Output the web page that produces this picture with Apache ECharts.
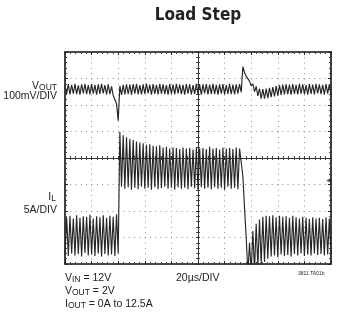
<!DOCTYPE html>
<html>
<head>
<meta charset="utf-8">
<script src="https://cdn.jsdelivr.net/npm/echarts@6/dist/echarts.min.js"></script>
<style>
html,body{margin:0;padding:0;background:#fff;}
#chart{width:345px;height:324px;}
</style>
</head>
<body>
<div id="chart"></div>
<script>
// ---- Data ----
// time axis: 20 µs/DIV, 10 divisions
const TIME_MIN_US = 0, TIME_MAX_US = 200, TIME_DIV_US = 20;
const SAMPLE_US = 1.25; // one sample every 1.25 µs (half a switching cycle)

// Inductor current I_L (A), 5 A/DIV
const IL_MIN = -5, IL_MAX = 35, IL_DIV = 5;
const ilAmps = [
  -3.2, 3.8, -3.5, 4.1, -3.0, 3.6, -3.4, 4.2, -3.1, 3.7,
  -3.6, 4.0, -2.9, 3.9, -3.4, 4.3, -3.2, 3.6, -3.5, 4.0,
  -3.0, 3.8, -3.6, 4.2, -3.1, 3.7, -3.4, 4.1, -3.2, 3.9,
  -3.5, 4.4, -3.0, 19.9, 9.6, 19.3, 9.2, 18.9, 9.5, 18.6,
  9.0, 18.4, 9.4, 18.1, 9.1, 17.9, 9.6, 17.8, 9.2, 17.5,
  9.4, 17.6, 9.0, 17.3, 9.5, 17.2, 9.1, 17.4, 9.3, 17.0,
  9.6, 17.1, 9.2, 16.8, 9.4, 17.0, 9.0, 16.9, 9.5, 16.7,
  9.2, 17.0, 9.4, 16.8, 9.1, 16.9, 9.6, 16.6, 9.3, 17.0,
  9.0, 16.8, 9.5, 16.9, 9.2, 16.7, 9.4, 17.1, 9.1, 16.8,
  9.5, 16.9, 9.2, 16.6, 9.4, 17.0, 9.0, 16.8, 9.6, 16.9,
  9.2, 16.7, 9.4, 17.0, 9.1, 16.8, 16.6, 11.5, 5.5, 0.0,
  -6.8, -1.0, -6.6, 1.2, -6.2, 2.6, -5.6, 3.4, -5.0, 3.9,
  -4.6, 4.1, -4.0, 4.0, -3.6, 4.2, -3.4, 3.8, -3.7, 4.1,
  -3.2, 3.9, -3.5, 4.0, -3.3, 3.7, -3.6, 4.1, -3.1, 3.8,
  -3.4, 3.6, -3.0, 3.9, -3.5, 3.7, -3.2, 3.5, -3.4, 3.8,
  -3.0, 3.6, -3.3, 3.7, -3.1, 3.5, -3.4, 3.8, -3.2, 3.6,
  -3.3
];

// Output voltage deviation from 2V (mV), 100 mV/DIV
const VOUT_MIN_MV = -660, VOUT_MAX_MV = 140;
const voutMv = [
  15, -18, 19, -20, 16, -17, 20, -19, 14, -21,
  18, -16, 20, -19, 15, -20, 19, -17, 16, -21,
  18, -18, 20, -16, 15, -20, 18, -19, 10, -24,
  -28, -55, -119, 12, -22, 16, -20, 18, -19, 17,
  -21, 19, -17, 20, -19, 15, -20, 18, -18, 21,
  -16, 17, -21, 19, -18, 16, -20, 20, -17, 18,
  -19, 15, -21, 19, -18, 17, -20, 20, -16, 18,
  -19, 16, -21, 19, -17, 18, -20, 15, -18, 20,
  -19, 17, -21, 18, -16, 19, -20, 17, -18, 20,
  -19, 16, -21, 18, -17, 19, -20, 15, -18, 20,
  -19, 17, -20, 18, -17, 19, -12, 85, 62, 48,
  42, 30, 12, 20, -10, 10, -26, 2, -36, 0,
  -36, 2, -34, 5, -30, 8, -28, 12, -25, 15,
  -22, 17, -20, 18, -19, 17, -21, 19, -18, 16,
  -20, 20, -17, 18, -19, 15, -21, 19, -18, 17,
  -20, 20, -16, 18, -19, 16, -21, 19, -17, 18,
  -20
];

// trigger-level marker on the right edge (time µs, current A)
const triggerMarker = [198.3, 10.75];

// crosshair graticule in divisions
const DIV_X = 5, DIV_Y = 4;

// ---- Chart ----
const chart = echarts.init(document.getElementById('chart'), null, {renderer: 'canvas'});
const ink = '#262626';
const dotted = {color: '#8a8a8a', width: 1, type: [1, 4.3]};
const frameAxisLine = {show: true, onZero: false, lineStyle: {color: '#111', width: 1.6}};
const none = {show: false};

function frameX(pos, split) {
  return {
    type: 'value', gridIndex: 0, position: pos,
    min: TIME_MIN_US, max: TIME_MAX_US, interval: TIME_DIV_US,
    axisLine: frameAxisLine,
    axisTick: {show: true, inside: true, length: 3, lineStyle: {color: '#222'}},
    minorTick: {show: true, splitNumber: 5, length: 2, lineStyle: {color: '#444'}},
    axisLabel: none,
    splitLine: split ? {show: true, lineStyle: dotted} : none
  };
}
function frameY(pos, split) {
  return {
    type: 'value', gridIndex: 0, position: pos,
    min: IL_MIN, max: IL_MAX, interval: IL_DIV,
    axisLine: frameAxisLine,
    axisTick: {show: true, inside: true, length: 3, lineStyle: {color: '#222'}},
    minorTick: {show: true, splitNumber: 5, length: 2, lineStyle: {color: '#444'}},
    axisLabel: none,
    splitLine: split ? {show: true, lineStyle: dotted} : none
  };
}
function crossX(pos) {
  return {
    type: 'value', gridIndex: 1, position: pos,
    min: -DIV_X, max: DIV_X, interval: 1,
    axisLine: {show: true, onZero: true, lineStyle: {color: '#333', width: 1}},
    axisTick: {show: true, inside: false, length: 2, lineStyle: {color: '#333'}},
    minorTick: {show: true, splitNumber: 5, length: 2, lineStyle: {color: '#444'}},
    axisLabel: none, splitLine: none
  };
}
function crossY(pos) {
  return {
    type: 'value', gridIndex: 1, position: pos,
    min: -DIV_Y, max: DIV_Y, interval: 1,
    axisLine: {show: true, onZero: true, lineStyle: {color: '#333', width: 1}},
    axisTick: {show: true, inside: false, length: 2, lineStyle: {color: '#333'}},
    minorTick: {show: true, splitNumber: 5, length: 2, lineStyle: {color: '#444'}},
    axisLabel: none, splitLine: none
  };
}

const textFont = '"Liberation Sans", Arial, sans-serif';
const rich = {
  v: {fontSize: 10.5, fontFamily: textFont, fill: '#222'},
  s: {fontSize: 8.5, fontFamily: textFont, fill: '#222', padding: [3, 0, 0, 0]}
};
function label(text, x, y, align, size) {
  return {
    type: 'text', silent: true,
    style: {
      text: text, x: x, y: y, align: align || 'left', verticalAlign: 'middle',
      textAlign: align || 'left', textVerticalAlign: 'middle',
      font: (size || 10.5) + 'px ' + textFont, fill: '#222', rich: rich
    }
  };
}

const option = {
  animation: false,
  backgroundColor: '#fff',
  grid: [
    {left: 65, top: 52, width: 266, height: 212},
    {left: 65, top: 52, width: 266, height: 212}
  ],
  xAxis: [frameX('bottom', true), frameX('top', false), crossX('bottom'), crossX('top')],
  yAxis: [
    frameY('left', true), frameY('right', false),
    {type: 'value', gridIndex: 0, min: VOUT_MIN_MV, max: VOUT_MAX_MV, show: false},
    crossY('left'), crossY('right')
  ],
  series: [
    {
      name: 'IL', type: 'line', xAxisIndex: 0, yAxisIndex: 0,
      data: ilAmps.map((v, i) => [i * SAMPLE_US, v]),
      showSymbol: false, symbol: 'none', clip: true, silent: true,
      lineStyle: {color: ink, width: 1.15}
    },
    {
      name: 'VOUT', type: 'line', xAxisIndex: 0, yAxisIndex: 2,
      data: voutMv.map((v, i) => [i * SAMPLE_US, v]),
      showSymbol: false, symbol: 'none', clip: true, silent: true,
      lineStyle: {color: ink, width: 1.15}
    },
    {
      name: 'trigger', type: 'scatter', xAxisIndex: 0, yAxisIndex: 0,
      data: [triggerMarker], symbol: 'triangle', symbolRotate: 90,
      symbolSize: [5, 5], itemStyle: {color: '#222'}, silent: true
    }
  ],
  graphic: [
    {
      type: 'text', silent: true,
      style: {
        text: 'Load Step', x: 198, y: 16, textAlign: 'center', textVerticalAlign: 'middle',
        align: 'center', verticalAlign: 'middle',
        font: 'bold 17px "Liberation Sans Narrow", "DejaVu Sans Condensed", "Liberation Sans", sans-serif',
        fill: '#222'
      }
    },
    label('{v|V}{s|OUT}', 57, 86, 'right'),
    label('100mV/DIV', 57, 96, 'right'),
    label('{v|I}{s|L}', 56, 197, 'right'),
    label('5A/DIV', 57, 210.5, 'right'),
    label('{v|V}{s|IN}{v| = 12V}', 65, 278.5, 'left'),
    label('{v|V}{s|OUT}{v| = 2V}', 65, 291.5, 'left'),
    label('{v|I}{s|OUT}{v| = 0A to 12.5A}', 65, 304, 'left'),
    label('20µs/DIV', 176, 278.5, 'left'),
    label('3811 TA01b', 298, 274, 'left', 5)
  ]
};
chart.setOption(option);
</script>
</body>
</html>
